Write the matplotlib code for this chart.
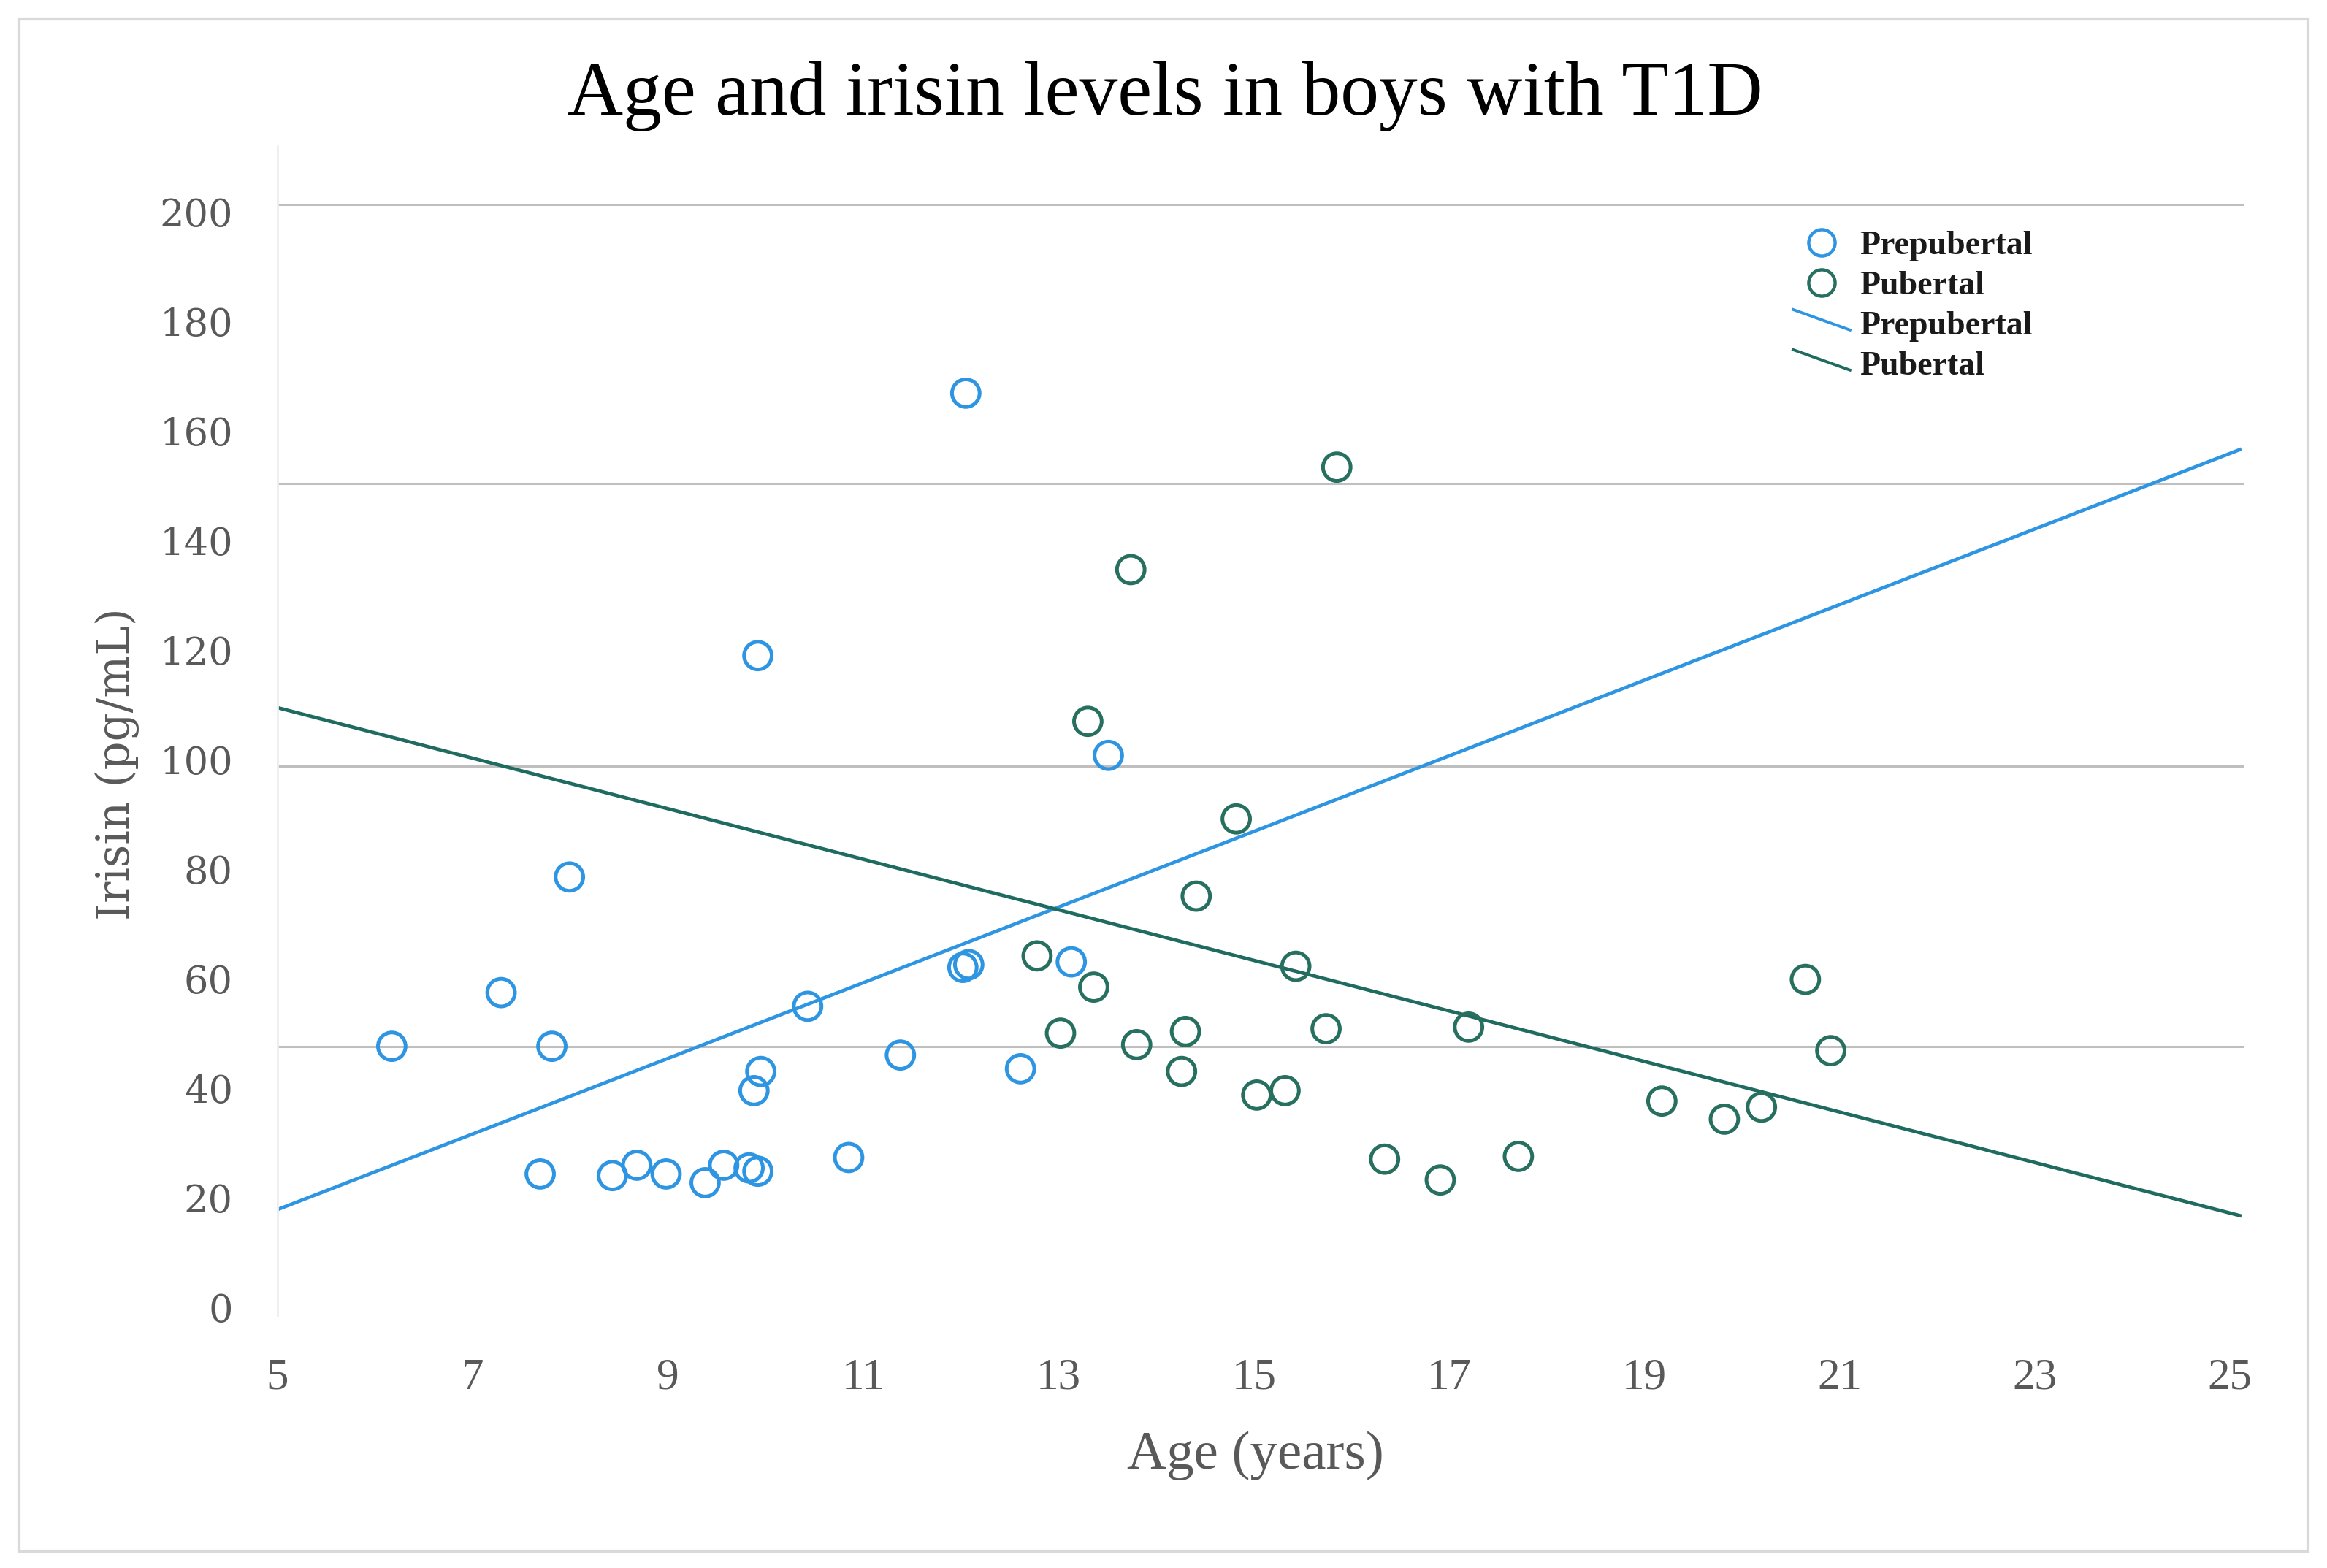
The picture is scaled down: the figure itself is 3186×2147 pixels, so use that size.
import matplotlib
matplotlib.use("Agg")
import matplotlib.pyplot as plt
from matplotlib.lines import Line2D
from matplotlib.patches import Rectangle
from matplotlib.legend_handler import HandlerLine2D

# 데이터
pre_age = [6.17, 7.29, 7.81, 7.99, 7.69, 8.43, 8.68, 8.98, 9.38, 9.57, 9.83, 9.92,
           9.88, 9.95, 9.92, 10.43, 10.85, 11.38, 12.05, 12.02, 12.08, 12.61, 13.13, 13.51]
pre_irisin = [47.7, 57.5, 47.7, 78.6, 24.4, 24.1, 26.0, 24.4, 22.8, 26.0, 25.5, 24.9,
              39.6, 43.1, 119.0, 55.0, 27.4, 46.1, 166.9, 62.1, 62.6, 43.6, 63.1, 100.8]

pub_age = [15.85, 13.74, 13.30, 14.82, 14.41, 12.78, 13.36, 15.43, 13.02, 13.80, 14.30, 14.26,
           15.03, 15.32, 15.74, 17.20, 16.34, 16.91, 17.71, 19.18, 19.82, 20.20, 20.65, 20.91]
pub_irisin = [153.4, 134.7, 107.0, 89.2, 75.1, 64.2, 58.5, 62.3, 50.1, 48.0, 50.4, 43.1,
              38.8, 39.6, 50.9, 51.2, 27.1, 23.3, 27.6, 37.7, 34.4, 36.6, 59.9, 46.9]

# 추세선 양 끝점
pre_fit_x = [5, 25.1]
pre_fit_y = [17.9, 156.6]
pub_fit_x = [5, 25.1]
pub_fit_y = [109.5, 16.8]

x_ticks = [5, 7, 9, 11, 13, 15, 17, 19, 21, 23, 25]
y_ticks = [0, 20, 40, 60, 80, 100, 120, 140, 160, 180, 200]
grid_levels = [47.7, 98.9, 150.4, 201.4]

BLUE = "#2e95e3"
TEAL = "#1f6b60"
TEAL_MK = "#27705f"
GRAY_TXT = "#595959"


class DiagonalHandler(HandlerLine2D):
    """범례에 대각선 모양의 선 핸들을 그림."""
    def create_artists(self, legend, orig_handle, xdescent, ydescent, width, height, fontsize, trans):
        line = Line2D([-xdescent, width - xdescent],
                      [height * 1.06 - ydescent, height * 0.19 - ydescent])
        self.update_prop(line, orig_handle, legend)
        line.set_marker("")
        line.set_transform(trans)
        return [line]


W, H = 3186, 2147
fig = plt.figure(figsize=(W / 200, H / 200), dpi=200)
ax = fig.add_axes([380 / W, 1 - 1801 / H, (3072 - 380) / W, (1801 - 200) / H])

for lvl in grid_levels:
    ax.axhline(lvl, color="#bfbfbf", linewidth=1.1, zorder=1)

ax.plot(pre_fit_x, pre_fit_y, color=BLUE, linewidth=1.7, zorder=2)
ax.plot(pub_fit_x, pub_fit_y, color=TEAL, linewidth=1.7, zorder=2)

ax.scatter(pre_age, pre_irisin, s=185, facecolors="none", edgecolors=BLUE, linewidths=1.8, zorder=3)
ax.scatter(pub_age, pub_irisin, s=185, facecolors="none", edgecolors=TEAL_MK, linewidths=1.8, zorder=3)

ax.set_xlim(5, 25.14)
ax.set_ylim(-1.4, 212)
ax.set_xticks(x_ticks)
ax.set_yticks(y_ticks)
ax.set_xticklabels([str(v) for v in x_ticks], fontfamily="Liberation Serif", fontsize=22, color=GRAY_TXT)
ax.set_yticklabels([str(v) for v in y_ticks], fontfamily="DejaVu Serif", fontsize=19, color=GRAY_TXT)
ax.tick_params(axis="both", length=0)
ax.tick_params(axis="x", pad=21)
ax.tick_params(axis="y", pad=22)

for side in ("top", "right", "bottom"):
    ax.spines[side].set_visible(False)
ax.spines["left"].set_color("#eeeeee")
ax.spines["left"].set_linewidth(1.0)

# 범례
h_pre_m = Line2D([], [], marker="o", linestyle="", markersize=13, markerfacecolor="none",
                 markeredgecolor=BLUE, markeredgewidth=1.6)
h_pub_m = Line2D([], [], marker="o", linestyle="", markersize=13, markerfacecolor="none",
                 markeredgecolor=TEAL_MK, markeredgewidth=1.6)
h_pre_l = Line2D([], [], color=BLUE, linewidth=1.4)
h_pub_l = Line2D([], [], color=TEAL, linewidth=1.4)
leg = ax.legend([h_pre_m, h_pub_m, h_pre_l, h_pub_l],
                ["Prepubertal", "Pubertal", "Prepubertal", "Pubertal"],
                handler_map={h_pre_l: DiagonalHandler(), h_pub_l: DiagonalHandler()},
                loc="upper left", bbox_to_anchor=(2455 / W, 1 - 316 / H),
                bbox_transform=fig.transFigure, frameon=False,
                borderpad=0, borderaxespad=0, handlelength=1.7, handletextpad=0.3,
                labelspacing=0.28, prop={"family": "Liberation Serif", "weight": "bold", "size": 16.5})
for t in leg.get_texts():
    t.set_color("#1a1a1a")

fig.text(1595 / W, 1 - 132 / H, "Age and irisin levels in boys with T1D",
         ha="center", va="center", fontfamily="Liberation Serif", fontsize=38, color="black")
fig.text(1719 / W, 1 - 1993 / H, "Age (years)", ha="center", va="center",
         fontfamily="Liberation Serif", fontsize=27, color=GRAY_TXT)
fig.text(160 / W, 1 - 1046 / H, "Irisin (pg/mL)", ha="center", va="center", rotation=90,
         fontfamily="DejaVu Serif", fontsize=22, color=GRAY_TXT)

fig.patches.append(Rectangle((26 / W, 1 - 2124 / H), (3160 - 26) / W, (2124 - 26) / H,
                             transform=fig.transFigure, fill=False, edgecolor="#d9d9d9",
                             linewidth=1.5, zorder=0))

fig.savefig("out.png", dpi=200)
